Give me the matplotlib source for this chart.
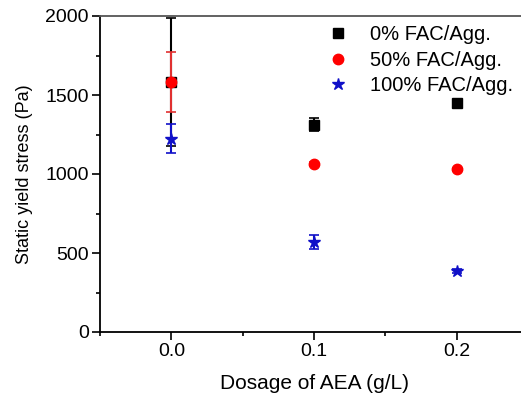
import matplotlib
matplotlib.use('Agg')
import matplotlib.pyplot as plt
from matplotlib.ticker import MultipleLocator

plt.rcParams['font.family'] = ['Liberation Sans', 'DejaVu Sans']

# Datos
dosage = [0.0, 0.1, 0.2]
labels = ['0% FAC/Agg.', '50% FAC/Agg.', '100% FAC/Agg.']
fac0 = [1580, 1313, 1449]
fac0_err = [405, 40, 8]
fac50 = [1582, 1063, 1030]
fac50_err = [190, 10, 8]
fac100 = [1222, 570, 386]
fac100_err = [92, 45, 15]

fig = plt.figure(figsize=(5.21, 4.03), dpi=100)
# el eje derecho queda fuera de la imagen, como en la original
ax = fig.add_axes([100/521, 1 - 332/403, 428/521, 316/403])

ax.errorbar(dosage, fac0, yerr=fac0_err, fmt='s', color='black', ms=6.5,
            capsize=3.5, elinewidth=1.5, capthick=1.2, zorder=2)
ax.errorbar(dosage, fac50, yerr=fac50_err, fmt='o', color='red', ecolor='#e03030', ms=7.5,
            capsize=3.5, elinewidth=1.5, capthick=1.2, zorder=3)
ax.errorbar(dosage, fac100, yerr=fac100_err, fmt='*', color='#1010c8', ms=9,
            capsize=3.5, elinewidth=1.5, capthick=1.2, zorder=4)

# leyenda solo con marcadores
h0, = ax.plot([], [], 's', color='black', ms=6.5)
h1, = ax.plot([], [], 'o', color='red', ms=7.5)
h2, = ax.plot([], [], '*', color='#1010c8', ms=9)

ax.set_xlim(-0.05, 0.25)
ax.set_ylim(0, 2000)
ax.set_xticks([0.0, 0.1, 0.2])
ax.set_xticklabels(['0.0', '0.1', '0.2'])
ax.xaxis.set_minor_locator(MultipleLocator(0.05))
ax.yaxis.set_major_locator(MultipleLocator(500))
ax.yaxis.set_minor_locator(MultipleLocator(250))
ax.tick_params(which='major', direction='out', length=5.5, width=1.2, labelsize=14, pad=2.5)
ax.tick_params(which='minor', direction='out', length=3, width=1.2)
for sp in ax.spines.values():
    sp.set_linewidth(1.3)
ax.spines['top'].set_color('#555555')

ax.set_xlabel('Dosage of AEA (g/L)', fontsize=15, labelpad=10)
ax.set_ylabel('Static yield stress (Pa)', fontsize=13, labelpad=9)

ax.legend([h0, h1, h2], labels, loc='upper left', bbox_to_anchor=(0.5, 1.01),
          frameon=False, fontsize=14.5, handletextpad=1.0, labelspacing=0.33,
          handlelength=1.2, borderaxespad=0.2)

fig.savefig('out.png', dpi=100)
